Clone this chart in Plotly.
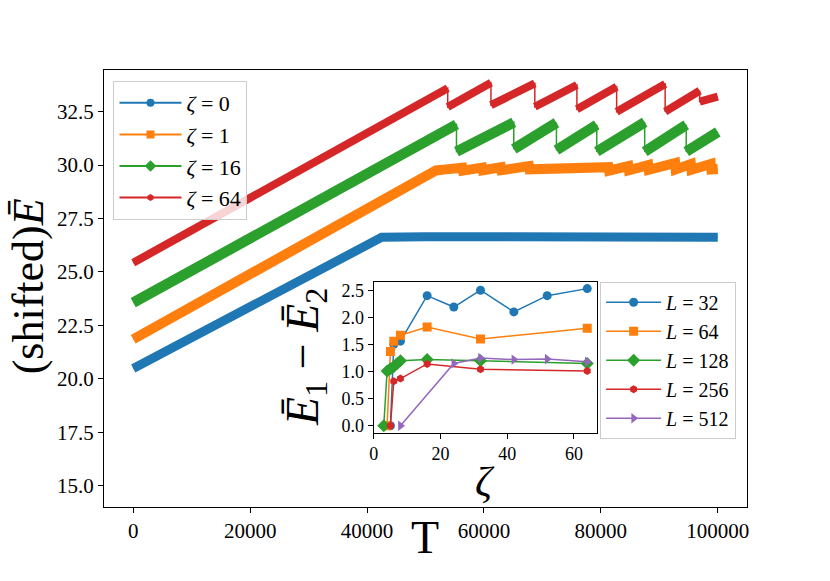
import plotly.graph_objects as go

# ---------------- main panel data ----------------
zeta_labels = ["0", "1", "16", "64"]

T_z0 = [0, 39000, 41000, 42500, 50000, 60000, 70000, 80000, 90000, 100000]
E_z0 = [20.48, 26.2, 26.5, 26.62, 26.65, 26.66, 26.64, 26.65, 26.63, 26.62]

T_z1 = [0, 50000, 51800, 53500, 56300, 56400, 59700, 59800, 62900, 63000, 67700, 67800,
        74500, 74600, 81300, 81400, 84700, 84800, 88100, 88200, 92700, 92800, 95400, 95500,
        98800, 98900, 100000]
E_z1 = [21.85, 29.55, 29.75, 29.8, 29.88, 29.74, 29.88, 29.76, 29.9, 29.76, 29.95, 29.8,
        29.85, 29.75, 29.9, 29.74, 29.95, 29.76, 30.0, 29.78, 30.1, 29.8, 30.05, 29.78,
        30.05, 29.8, 29.82]

T_z16 = [0, 55300, 55300, 65100, 65100, 72400, 72400, 79300, 79300, 87500, 87500, 94600, 94600, 100000]
E_z16 = [23.56, 31.9, 30.63, 32.0, 30.75, 31.98, 30.7, 31.88, 30.63, 32.0, 30.63, 31.88, 30.63, 31.55]

T_z64 = [0, 53800, 53800, 61200, 61200, 68700, 68700, 75900, 75900, 82700, 82700, 91000, 91000,
         96900, 96900, 100000]
E_z64 = [25.43, 33.6, 32.72, 33.85, 32.81, 33.82, 32.73, 33.75, 32.61, 33.67, 32.5, 33.79, 32.5,
         33.48, 32.97, 33.2]

# ---------------- inset data ----------------
L_labels = ["32", "64", "128", "256", "512"]
zeta_L32 = [5, 6, 8, 16, 24, 32, 42, 52, 64]
dE_L32 = [0.0, 1.5, 1.56, 2.40, 2.19, 2.50, 2.10, 2.40, 2.53]
zeta_L64 = [4, 5, 6, 8, 16, 32, 64]
dE_L64 = [0.0, 1.37, 1.56, 1.67, 1.82, 1.60, 1.80]
zeta_L128 = [3, 4, 5, 6, 7, 8, 16, 32, 64]
dE_L128 = [0.0, 1.01, 1.05, 1.09, 1.15, 1.20, 1.22, 1.20, 1.15]
zeta_L256 = [5, 6, 8, 16, 32, 64]
dE_L256 = [0.0, 0.82, 0.87, 1.14, 1.04, 1.01]
zeta_L512 = [8, 24, 32, 42, 52, 64]
dE_L512 = [0.0, 1.15, 1.25, 1.22, 1.23, 1.18]

main_x_ticks = [0, 20000, 40000, 60000, 80000, 100000]
main_y_ticks = [15.0, 17.5, 20.0, 22.5, 25.0, 27.5, 30.0, 32.5]
inset_x_ticks = [0, 20, 40, 60]
inset_y_ticks = [0.0, 0.5, 1.0, 1.5, 2.0, 2.5]

colors = ["#1f77b4", "#ff7f0e", "#2ca02c", "#d62728", "#9467bd"]
FONT = "Liberation Serif"

fig = go.Figure()

def thick_xy(T, E):
    xs, ys = [T[0]], [E[0]]
    for i in range(1, len(T)):
        if T[i] == T[i - 1]:
            xs.append(None)
            ys.append(None)
        xs.append(T[i])
        ys.append(E[i])
    return xs, ys

main_series = [(T_z0, E_z0, 9), (T_z1, E_z1, 10), (T_z16, E_z16, 10.5), (T_z64, E_z64, 8)]
main_symbols = ["circle", "square", "diamond", "hexagon"]
main_msize = [8, 8, 9, 7]

for i, (T, E, w) in enumerate(main_series):
    # thin connecting line
    fig.add_trace(go.Scatter(x=T, y=E, mode="lines", line=dict(color=colors[i], width=1.5),
                             showlegend=False, hoverinfo="skip", xaxis="x", yaxis="y"))
    xs, ys = thick_xy(T, E)
    fig.add_trace(go.Scatter(x=xs, y=ys, mode="lines", line=dict(color=colors[i], width=w),
                             showlegend=False, xaxis="x", yaxis="y"))

for i, lab in enumerate(zeta_labels):
    fig.add_trace(go.Scatter(x=[None], y=[None], mode="lines+markers",
                             name="<i>ζ</i> = " + lab,
                             line=dict(color=colors[i], width=2),
                             marker=dict(symbol=main_symbols[i], size=main_msize[i], color=colors[i]),
                             xaxis="x", yaxis="y", legend="legend"))

inset_series = [(zeta_L32, dE_L32), (zeta_L64, dE_L64), (zeta_L128, dE_L128),
                (zeta_L256, dE_L256), (zeta_L512, dE_L512)]
inset_symbols = ["circle", "square", "diamond", "hexagon", "triangle-right"]
inset_msize = [9, 9, 10, 8, 9]
for i, (zx, dy) in enumerate(inset_series):
    fig.add_trace(go.Scatter(x=zx, y=dy, mode="lines+markers",
                             name="<i>L</i> = " + L_labels[i],
                             line=dict(color=colors[i], width=1.5),
                             marker=dict(symbol=inset_symbols[i], size=inset_msize[i], color=colors[i]),
                             xaxis="x2", yaxis="y2", legend="legend2"))

axis_common = dict(showline=True, linecolor="black", linewidth=1, mirror=True,
                   ticks="outside", ticklen=5, tickcolor="black", showgrid=False,
                   zeroline=False)

W, H = 830, 581
ml, mr, mt, mb = 103.5, 83, 70, 73.5
pw, ph = W - ml - mr, H - mt - mb

def px(x):
    return (x - ml) / pw

def py(y):
    return (H - mb - y) / ph

fig.update_layout(
    width=W, height=H,
    margin=dict(l=ml, r=mr, t=mt, b=mb, pad=0),
    paper_bgcolor="white", plot_bgcolor="white",
    font=dict(family=FONT, color="black", size=21),
    xaxis=dict(**axis_common, domain=[0, 1], range=[-5000, 105000],
               tickvals=main_x_ticks, ticktext=[str(v) for v in main_x_ticks],
               tickfont=dict(size=21)),
    yaxis=dict(**axis_common, domain=[0, 1], range=[14.0, 34.45],
               tickvals=main_y_ticks, ticktext=["%.1f" % v for v in main_y_ticks],
               tickfont=dict(size=21)),
    xaxis2=dict(**axis_common, domain=[px(373.3), px(597.3)], range=[-0.05, 67.05],
                anchor="y2", tickvals=inset_x_ticks, ticktext=[str(v) for v in inset_x_ticks],
                tickfont=dict(size=18)),
    yaxis2=dict(**axis_common, domain=[py(433), py(282)], range=[-0.1265, 2.6565],
                anchor="x2", tickvals=inset_y_ticks, ticktext=["%.1f" % v for v in inset_y_ticks],
                tickfont=dict(size=18)),
    legend=dict(x=px(113), y=py(81), xanchor="left", yanchor="top",
                bgcolor="rgba(255,255,255,0.8)", bordercolor="#cccccc", borderwidth=1,
                font=dict(size=22), itemwidth=62, tracegroupgap=0),
    legend2=dict(x=px(600), y=py(282), xanchor="left", yanchor="top",
                 bgcolor="rgba(255,255,255,0.8)", bordercolor="#cccccc", borderwidth=1,
                 font=dict(size=20), itemwidth=55, tracegroupgap=0),
    shapes=[dict(type="rect", xref="x2 domain", yref="y2 domain", x0=0, x1=1, y0=0, y1=1,
                 fillcolor="white", line=dict(width=0), layer="below")],
    annotations=[
        dict(text="T", x=px(425), y=py(538), xref="paper", yref="paper",
             showarrow=False, font=dict(size=46), xanchor="center", yanchor="middle"),
        dict(text="(shifted)<i>Ē</i>", x=px(28), y=py(287), xref="paper", yref="paper",
             showarrow=False, font=dict(size=44), textangle=-90,
             xanchor="center", yanchor="middle"),
        dict(text="<i>Ē</i><sub>1</sub> − <i>Ē</i><sub>2</sub>", x=px(305), y=py(357),
             xref="paper", yref="paper", showarrow=False, font=dict(size=46), textangle=-90,
             xanchor="center", yanchor="middle"),
        dict(text="<i>ζ</i>", x=px(485), y=py(482), xref="paper", yref="paper",
             showarrow=False, font=dict(size=42), xanchor="center", yanchor="middle"),
    ],
)

fig.write_html("out.html", config={"displayModeBar": False},
               post_script="document.body.style.margin='0px';")
